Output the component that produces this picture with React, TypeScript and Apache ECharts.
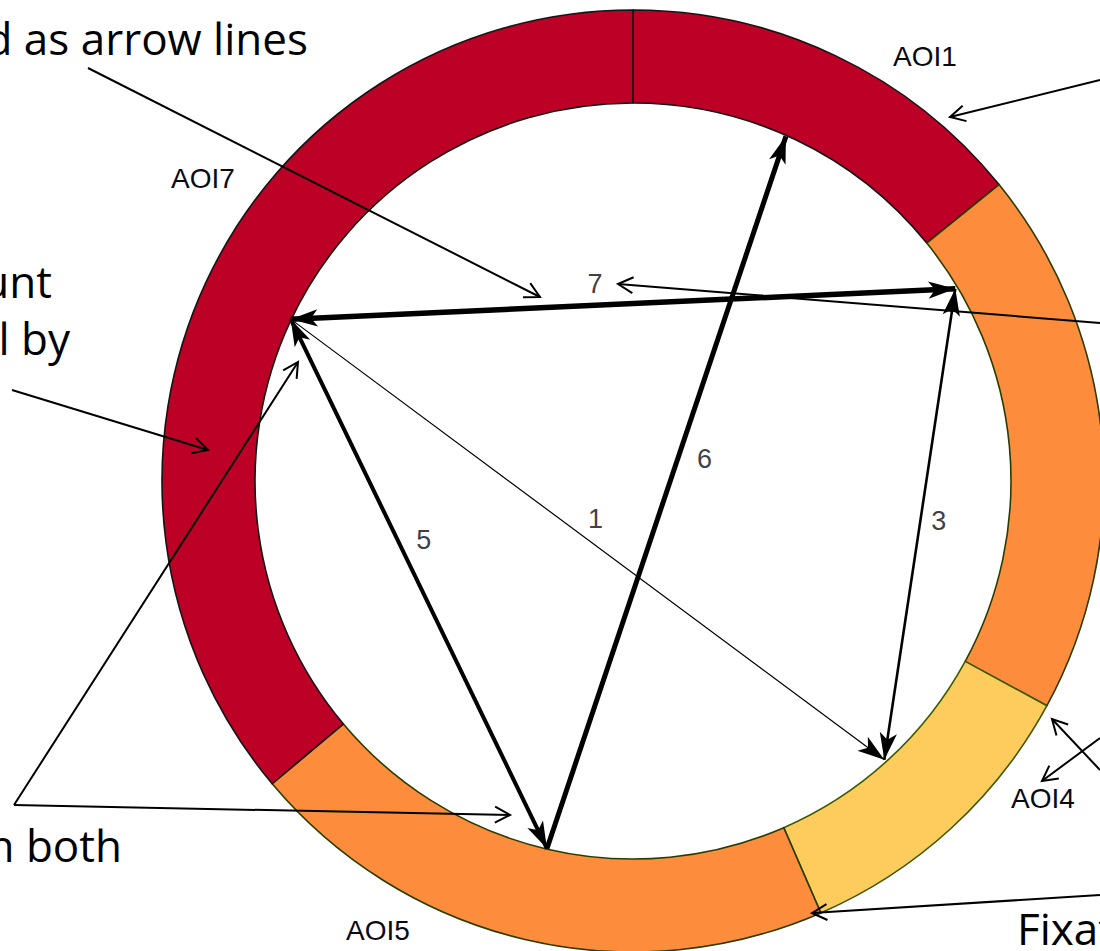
import React, { useEffect, useRef } from 'react';
import * as echarts from 'echarts';

// ---- Ring (AOI sectors), spans in degrees clockwise from 12 o'clock ----
const aoiNames = ['AOI1', 'AOI3', 'AOI4', 'AOI5', 'AOI7'];
const aoiSpans = [51, 67.5, 38, 73.5, 130];
const aoiColors = ['#BD0026', '#FD8D3C', '#FECC5C', '#FD8D3C', '#BD0026'];
const aoiBorders = ['#151515', '#2a3d00', '#3a5a00', '#2a3d00', '#151515'];

// ---- Fixation nodes on the inner circle (angle clockwise from top, degrees) ----
const nodeNames = ['A', 'B', 'C', 'D', 'E'];
const nodeAngles = [295.3, 59.5, 192.9, 137.7, 24.3];

// ---- Transitions ----
const transitionFrom = ['A', 'B', 'A', 'C', 'A'];
const transitionTo = ['D', 'D', 'C', 'E', 'B'];
const transitionCounts = [1, 3, 5, 6, 7];
const transitionBothHeads = [false, true, true, false, true];

// ---- AOI text labels ----
const aoiLabelTexts = ['AOI1', 'AOI7', 'AOI4', 'AOI5'];

// ---- Annotation texts ----
const noteTexts = ['d as arrow lines', 'unt', 'l by', 'n both', 'Fixat'];

// ================= layout / style (not data) =================
const W = 1100;
const H = 951;
const CX = 633;
const CY = 481;
const INNER = 378;
const OUTER = 471;
const EXT = OUTER / INNER;
const transitionWidths = [1.2, 2.6, 4, 5, 5.5];
const transitionLabelOffsets = [[8, -20], [19, -3], [5, -44], [38, -33], [-28, -20]];
const aoiLabelPos = [[925, 56], [203, 178], [1043, 798], [378, 930]];
const notePos = [
  { x: 308, baseline: 55, align: 'right' },
  { x: 52, baseline: 298, align: 'right' },
  { x: 70, baseline: 355, align: 'right' },
  { x: 122, baseline: 862, align: 'right' },
  { x: 1017, baseline: 945, align: 'left' },
];
const callouts = [
  { from: [88, 68], to: [540, 297] },
  { from: [1100, 80], to: [950, 117] },
  { from: [12, 390], to: [208, 450] },
  { from: [1100, 323], to: [618, 284] },
  { from: [14, 805], to: [298, 362] },
  { from: [14, 805], to: [510, 815] },
  { from: [1100, 770], to: [1052, 719] },
  { from: [1100, 738], to: [1042, 781] },
  { from: [1100, 895], to: [812, 913] },
];

const NOTE_FS = 44;
const NOTE_FONT = '"Open Sans", "Noto Sans", sans-serif';

function nodeXY(name: string): number[] {
  const a = (nodeAngles[nodeNames.indexOf(name)] * Math.PI) / 180;
  return [Math.sin(a), Math.cos(a)];
}

function openArrow(from: number[], to: number[]) {
  const ang = Math.atan2(to[1] - from[1], to[0] - from[0]);
  const len = 17;
  const spread = (28 * Math.PI) / 180;
  const p1 = [to[0] - len * Math.cos(ang - spread), to[1] - len * Math.sin(ang - spread)];
  const p2 = [to[0] - len * Math.cos(ang + spread), to[1] - len * Math.sin(ang + spread)];
  return [
    {
      type: 'line',
      silent: true,
      z: 100,
      shape: { x1: from[0], y1: from[1], x2: to[0], y2: to[1] },
      style: { stroke: '#000', lineWidth: 2 },
    },
    {
      type: 'polyline',
      silent: true,
      z: 100,
      shape: { points: [p1, to, p2] },
      style: { stroke: '#000', lineWidth: 2, fill: null },
    },
  ];
}

export default function App() {
  const ref = useRef<HTMLDivElement>(null);

  useEffect(() => {
    if (!ref.current) return;
    const chart = echarts.init(ref.current, null, { renderer: 'svg', width: W, height: H });

    const pieData = aoiNames.map((n, i) => ({
      name: n,
      value: aoiSpans[i],
      itemStyle: { color: aoiColors[i], borderColor: aoiBorders[i], borderWidth: 1.6 },
    }));

    const linesData = transitionFrom.map((f, i) => ({
      coords: [nodeXY(f), nodeXY(transitionTo[i])],
      symbol: [transitionBothHeads[i] ? 'arrow' : 'none', 'arrow'],
      symbolSize: [[13, 27], [13, 27]],
      symbolOffset: [[0, '50%'], [0, '50%']],
      lineStyle: { width: transitionWidths[i], color: '#000', opacity: 1 },
    }));

    const labelData = transitionFrom.map((f, i) => {
      const a = nodeXY(f);
      const b = nodeXY(transitionTo[i]);
      return {
        value: [(a[0] + b[0]) / 2, (a[1] + b[1]) / 2, transitionCounts[i]],
        label: { offset: transitionLabelOffsets[i] },
      };
    });

    const graphics: any[] = [];
    aoiLabelTexts.forEach((t, i) => {
      graphics.push({
        type: 'text',
        silent: true,
        z: 100,
        x: aoiLabelPos[i][0],
        y: aoiLabelPos[i][1],
        style: {
          text: t,
          fill: '#0a0a14',
          font: '28px "Liberation Sans", Arial, sans-serif',
          textAlign: 'center',
          textVerticalAlign: 'middle',
        },
      });
    });
    noteTexts.forEach((t, i) => {
      graphics.push({
        type: 'text',
        silent: true,
        z: 100,
        x: notePos[i].x,
        y: notePos[i].baseline - NOTE_FS * 0.388,
        style: {
          text: t,
          fill: '#000',
          font: `${NOTE_FS}px ${NOTE_FONT}`,
          textAlign: notePos[i].align,
          textVerticalAlign: 'middle',
        },
      });
    });
    callouts.forEach((c) => graphics.push(...openArrow(c.from, c.to)));

    chart.setOption({
      animation: false,
      backgroundColor: '#fff',
      grid: { left: CX - OUTER, top: CY - OUTER, width: 2 * OUTER, height: 2 * OUTER, show: false },
      xAxis: { type: 'value', min: -EXT, max: EXT, show: false },
      yAxis: { type: 'value', min: -EXT, max: EXT, show: false },
      series: [
        {
          type: 'pie',
          silent: true,
          center: [CX, CY],
          radius: [INNER, OUTER],
          startAngle: 90,
          clockwise: true,
          label: { show: false },
          labelLine: { show: false },
          data: pieData,
        },
        {
          type: 'lines',
          coordinateSystem: 'cartesian2d',
          silent: true,
          polyline: false,
          lineStyle: { color: '#000', opacity: 1, curveness: 0 },
          data: linesData,
          z: 5,
        },
        {
          type: 'scatter',
          silent: true,
          symbolSize: 1,
          itemStyle: { color: 'rgba(0,0,0,0)' },
          label: {
            show: true,
            position: 'inside',
            color: '#0a0a14',
            fontSize: 27,
            fontFamily: '"Liberation Sans", Arial, sans-serif',
            formatter: (p: any) => String(p.value[2]),
          },
          data: labelData,
          z: 6,
        },
      ],
      graphic: graphics,
    });

    return () => chart.dispose();
  }, []);

  return (
    <div
      ref={ref}
      style={{ position: 'fixed', left: 0, top: 0, width: W, height: H, background: '#fff' }}
    />
  );
}
